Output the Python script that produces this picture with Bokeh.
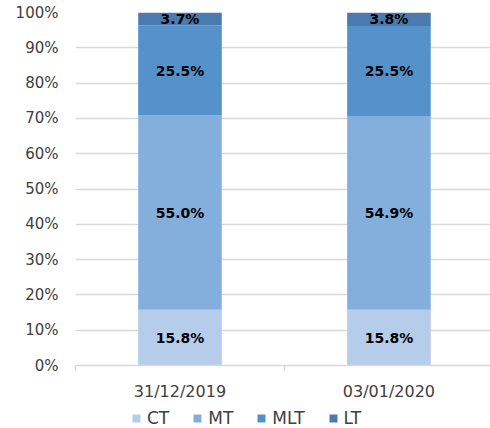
from bokeh.plotting import figure
from bokeh.layouts import column
from bokeh.models import (ColumnDataSource, Range1d, FixedTicker, PrintfTickFormatter,
                          Legend, LegendItem)
from bokeh.embed import file_html
from bokeh.resources import INLINE
from bokeh.core.properties import value

# ---- data ----
dates = ["31/12/2019", "03/01/2020"]
series = ["CT", "MT", "MLT", "LT"]
ct = [15.8, 15.8]
mt = [55.0, 54.9]
mlt = [25.5, 25.5]
lt = [3.7, 3.8]
colors = ["#B5CCEA", "#84AFDD", "#5592CB", "#4A7AAE"]
y_ticks = [0, 10, 20, 30, 40, 50, 60, 70, 80, 90, 100]

FONT = "DejaVu Sans"
TXT = "#404040"

xpos = [i + 0.5 for i in range(len(dates))]
src = ColumnDataSource({"x": xpos, "CT": ct, "MT": mt, "MLT": mlt, "LT": lt})

p = figure(width=490, height=403, output_backend="svg", toolbar_location=None,
           x_range=Range1d(0, 1.986), y_range=Range1d(0, 100),
           min_border_left=75, min_border_right=0, min_border_top=12, min_border_bottom=3)
p.outline_line_color = None

renderers = p.vbar_stack(series, x="x", width=0.4, source=src, color=colors, line_color=None)

# labels at segment midpoints
vals = [ct, mt, mlt, lt]
lx, ly, ltxt = [], [], []
for i in range(len(dates)):
    base = 0.0
    for s in vals:
        v = s[i]
        lx.append(xpos[i])
        ly.append(base + v / 2)
        ltxt.append(f"{v:.1f}%")
        base += v
lsrc = ColumnDataSource({"x": lx, "y": ly, "t": ltxt})
p.text(x="x", y="y", text="t", source=lsrc, text_align="center", text_baseline="middle",
       text_font=value(FONT), text_font_size="14px", text_font_style="bold", text_color="black")

# y axis
p.yaxis.ticker = FixedTicker(ticks=y_ticks)
p.yaxis.formatter = PrintfTickFormatter(format="%d%%")
p.yaxis.axis_line_color = None
p.yaxis.major_tick_line_color = None
p.yaxis.major_tick_out = 0
p.yaxis.major_tick_in = 0
p.yaxis.minor_tick_line_color = None
p.yaxis.minor_tick_out = 0
p.yaxis.major_label_standoff = 17
p.yaxis.major_label_text_font = FONT
p.yaxis.major_label_text_font_size = "15px"
p.yaxis.major_label_text_color = TXT

# x axis
p.xaxis.ticker = FixedTicker(ticks=xpos, minor_ticks=[0, 1, 2])
p.xaxis.major_label_overrides = {x: d for x, d in zip(xpos, dates)}
p.xaxis.axis_line_color = "#D9D9D9"
p.xaxis.axis_line_width = 1.5
p.xaxis.major_tick_line_color = None
p.xaxis.major_tick_out = 0
p.xaxis.major_tick_in = 0
p.xaxis.minor_tick_line_color = "#D9D9D9"
p.xaxis.minor_tick_line_width = 1.5
p.xaxis.minor_tick_out = 5
p.xaxis.minor_tick_in = 0
p.xaxis.major_label_standoff = 11
p.xaxis.major_label_text_font = FONT
p.xaxis.major_label_text_font_size = "16px"
p.xaxis.major_label_text_color = TXT

p.xgrid.grid_line_color = None
p.ygrid.ticker = FixedTicker(ticks=y_ticks)
p.ygrid.grid_line_color = "#D9D9D9"
p.ygrid.grid_line_width = 1.5

# legend strip (separate figure so it is not clipped); its bars lie outside its view
lg = figure(width=490, height=25, output_backend="svg", toolbar_location=None,
            x_range=Range1d(-10, -9), y_range=Range1d(-10, -9),
            x_axis_location=None, y_axis_location=None,
            min_border=0, outline_line_color=None)
lg.grid.visible = False
lrs = lg.vbar_stack(series, x="x", width=0.4, source=src, color=colors, line_color=None)
legend = Legend(items=[LegendItem(label=s, renderers=[r]) for s, r in zip(series, lrs)],
                orientation="horizontal", location=(56, 0),
                glyph_width=10, glyph_height=10, label_standoff=6, spacing=23,
                label_text_font=FONT, label_text_font_size="17px", label_text_color=TXT,
                border_line_color=None, background_fill_alpha=0, margin=0, padding=2)
lg.add_layout(legend, "center")

layout = column(p, lg, spacing=0)
open("out.html", "w").write(file_html(layout, INLINE))
